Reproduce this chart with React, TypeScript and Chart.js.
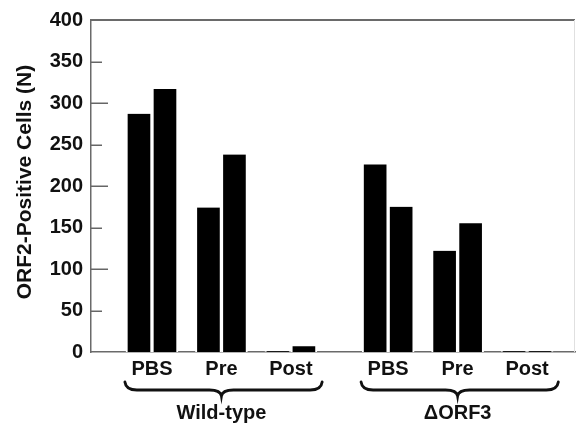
import React, { useEffect, useRef } from "react";
import { Chart, registerables } from "chart.js";

Chart.register(...registerables);

const groupNames = ["Wild-type", "\u0394ORF3"];
const groupMembers = [
  [0, 1, 2],
  [3, 4, 5],
];
const categories = ["PBS", "Pre", "Post", "PBS", "Pre", "Post"];
const xPositions = [0, 1, 2, 3.4, 4.4, 5.4];
const seriesA = [287, 174, 1, 226, 122, 1];
const seriesB = [317, 238, 7, 175, 155, 1];
const yTicks = [0, 50, 100, 150, 200, 250, 300, 350, 400];
const yTitle = "ORF2-Positive Cells (N)";

const FONT = '"Liberation Sans", Arial, Helvetica, sans-serif';

const decorPlugin = {
  id: "decor",
  afterDraw(chart: any) {
    const { ctx, chartArea: a, scales } = chart;
    const x = scales.x;
    const y = scales.y;
    ctx.save();
    // top border
    ctx.strokeStyle = "#6a6a6a";
    ctx.lineWidth = 2;
    ctx.beginPath();
    ctx.moveTo(a.left, a.top);
    ctx.lineTo(a.right, a.top);
    ctx.stroke();
    // right border (faint)
    ctx.strokeStyle = "#e0e0e0";
    ctx.lineWidth = 1;
    ctx.beginPath();
    ctx.moveTo(a.right - 0.5, a.top);
    ctx.lineTo(a.right - 0.5, a.bottom);
    ctx.stroke();
    // inner ticks on y axis
    ctx.strokeStyle = "#666";
    ctx.lineWidth = 1.5;
    yTicks.forEach((v) => {
      if (v === 0 || v === 400) return;
      const py = Math.round(y.getPixelForValue(v)) + 0.25;
      const len = v % 100 === 0 ? 17 : 11;
      ctx.beginPath();
      ctx.moveTo(a.left, py);
      ctx.lineTo(a.left + len, py);
      ctx.stroke();
    });
    // y title
    ctx.fillStyle = "#111";
    ctx.font = `bold 21px ${FONT}`;
    ctx.textAlign = "center";
    ctx.textBaseline = "middle";
    ctx.save();
    ctx.translate(25, (a.top + a.bottom) / 2 - 4);
    ctx.rotate(-Math.PI / 2);
    ctx.fillText(yTitle, 0, 0);
    ctx.restore();
    // braces and group labels
    const yt = a.bottom + 30;
    const ym = a.bottom + 38;
    const yb = a.bottom + 44;
    ctx.strokeStyle = "#111";
    ctx.lineWidth = 2.8;
    ctx.lineCap = "round";
    groupMembers.forEach((members, gi) => {
      const first = xPositions[members[0]];
      const last = xPositions[members[members.length - 1]];
      const x0 = x.getPixelForValue(first - 0.39);
      const x1 = x.getPixelForValue(last + 0.45);
      const xm = x.getPixelForValue((first + last) / 2);
      const r = 12;
      ctx.beginPath();
      ctx.moveTo(x0, yt);
      ctx.quadraticCurveTo(x0 + 1, ym, x0 + r, ym);
      ctx.lineTo(xm - r, ym);
      ctx.quadraticCurveTo(xm - 1, ym, xm, yb);
      ctx.quadraticCurveTo(xm + 1, ym, xm + r, ym);
      ctx.lineTo(x1 - r, ym);
      ctx.quadraticCurveTo(x1 - 1, ym, x1, yt);
      ctx.stroke();
      ctx.fillStyle = "#111";
      ctx.font = `bold 20px ${FONT}`;
      ctx.textAlign = "center";
      ctx.textBaseline = "middle";
      ctx.fillText(groupNames[gi], xm, a.bottom + 61);
    });
    ctx.restore();
  },
};

export default function App() {
  const canvasRef = useRef<HTMLCanvasElement | null>(null);

  useEffect(() => {
    const canvas = canvasRef.current;
    if (!canvas) return;
    const barStyle = {
      backgroundColor: "#000",
      borderColor: "#fff",
      borderWidth: { left: 2, right: 2, top: 0, bottom: 0 },
      borderSkipped: false as any,
      barThickness: 26,
    };
    const chart = new Chart(canvas, {
      type: "bar",
      data: {
        datasets: [
          {
            label: "A",
            data: seriesA.map((v, i) => ({ x: xPositions[i], y: v })),
            ...barStyle,
          },
          {
            label: "B",
            data: seriesB.map((v, i) => ({ x: xPositions[i], y: v })),
            ...barStyle,
          },
        ],
      },
      options: {
        responsive: false,
        animation: false,
        layout: { padding: { top: 19, right: 1, left: 0, bottom: 0 } },
        plugins: {
          legend: { display: false },
          tooltip: { enabled: false },
        },
        scales: {
          x: {
            type: "linear",
            min: -0.878,
            max: 6.09,
            offset: false,
            grid: { display: false, drawTicks: false },
            border: { display: true, color: "#6a6a6a", width: 1.5 },
            afterBuildTicks: (s: any) => {
              s.ticks = xPositions.map((v) => ({ value: v }));
            },
            afterFit: (s: any) => {
              s.height = 73;
            },
            ticks: {
              autoSkip: false,
              maxRotation: 0,
              minRotation: 0,
              padding: 5,
              color: "#111",
              font: { family: FONT, size: 20, weight: "bold" },
              callback: (_v: any, i: number) => categories[i],
            },
          },
          y: {
            min: 0,
            max: 400,
            grid: { display: false, drawTicks: false },
            border: { display: true, color: "#6a6a6a", width: 1.5 },
            afterBuildTicks: (s: any) => {
              s.ticks = yTicks.map((v) => ({ value: v }));
            },
            afterFit: (s: any) => {
              s.width = 91;
            },
            ticks: {
              padding: 8,
              color: "#111",
              font: { family: FONT, size: 20, weight: "bold" },
            },
          },
        },
      } as any,
      plugins: [decorPlugin],
    });
    return () => chart.destroy();
  }, []);

  return (
    <div
      style={{
        position: "fixed",
        left: 0,
        top: 0,
        width: 576,
        height: 425,
        background: "#fff",
      }}
    >
      <canvas ref={canvasRef} width={576} height={425} style={{ display: "block" }} />
    </div>
  );
}
